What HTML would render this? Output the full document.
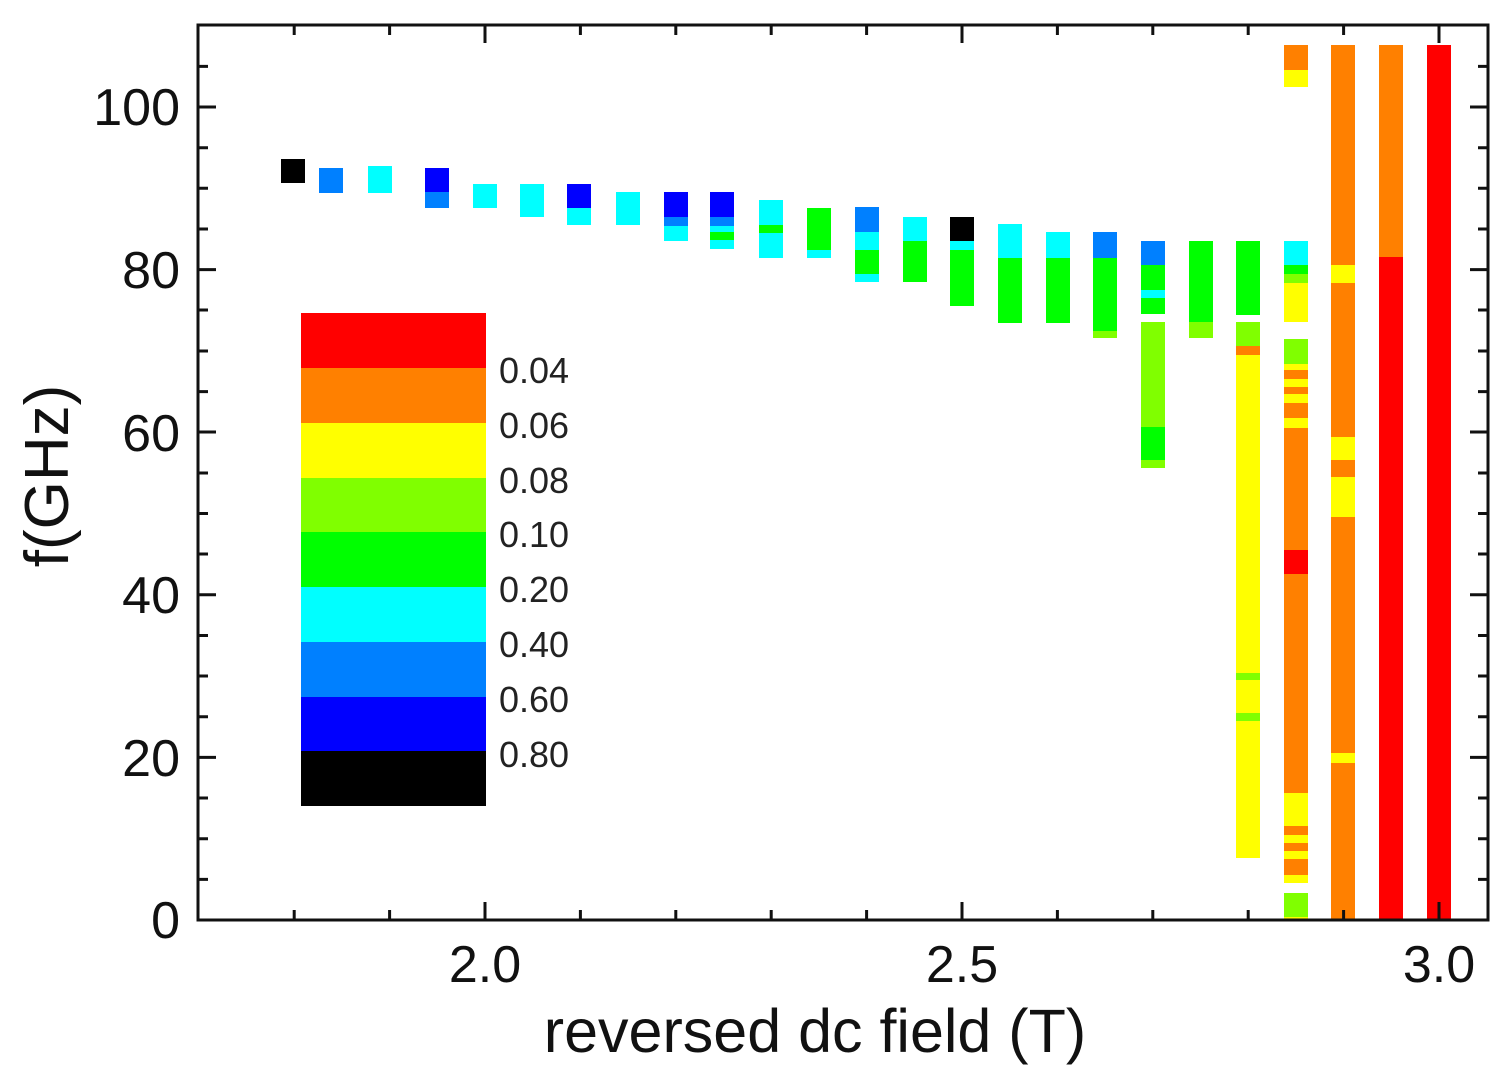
<!DOCTYPE html>
<html><head><meta charset="utf-8"><style>
html,body{margin:0;padding:0;background:#fff;}
svg{display:block;font-family:"Liberation Sans",Arial,sans-serif;}
</style></head><body>
<svg width="1508" height="1074" viewBox="0 0 1508 1074" xmlns="http://www.w3.org/2000/svg">
<rect width="1508" height="1074" fill="#fff"/>
<g shape-rendering="crispEdges">
<rect x="281" y="159" width="24" height="24" fill="#000"/>
<rect x="319" y="168" width="24" height="25" fill="#0080ff"/>
<rect x="368" y="166" width="24" height="27" fill="#00ffff"/>
<rect x="425" y="168" width="24" height="24" fill="#0000ff"/><rect x="425" y="192" width="24" height="16" fill="#0080ff"/>
<rect x="473" y="184" width="24" height="24" fill="#00ffff"/>
<rect x="520" y="184" width="24" height="33" fill="#00ffff"/>
<rect x="567" y="184" width="24" height="24" fill="#0000ff"/><rect x="567" y="208" width="24" height="17" fill="#00ffff"/>
<rect x="616" y="192" width="24" height="33" fill="#00ffff"/>
<rect x="664" y="192" width="24" height="25" fill="#0000ff"/><rect x="664" y="217" width="24" height="9" fill="#0080ff"/><rect x="664" y="226" width="24" height="15" fill="#00ffff"/>
<rect x="710" y="192" width="24" height="25" fill="#0000ff"/><rect x="710" y="217" width="24" height="9" fill="#0080ff"/><rect x="710" y="226" width="24" height="6" fill="#00ffff"/><rect x="710" y="232" width="24" height="8" fill="#00ff00"/><rect x="710" y="240" width="24" height="9" fill="#00ffff"/>
<rect x="759" y="200" width="24" height="25" fill="#00ffff"/><rect x="759" y="225" width="24" height="8" fill="#00ff00"/><rect x="759" y="233" width="24" height="25" fill="#00ffff"/>
<rect x="807" y="208" width="24" height="42" fill="#00ff00"/><rect x="807" y="250" width="24" height="8" fill="#00ffff"/>
<rect x="855" y="207" width="24" height="25" fill="#0080ff"/><rect x="855" y="232" width="24" height="18" fill="#00ffff"/><rect x="855" y="250" width="24" height="24" fill="#00ff00"/><rect x="855" y="274" width="24" height="8" fill="#00ffff"/>
<rect x="903" y="217" width="24" height="24" fill="#00ffff"/><rect x="903" y="241" width="24" height="41" fill="#00ff00"/>
<rect x="950" y="217" width="24" height="24" fill="#000"/><rect x="950" y="241" width="24" height="9" fill="#00ffff"/><rect x="950" y="250" width="24" height="56" fill="#00ff00"/>
<rect x="998" y="224" width="24" height="34" fill="#00ffff"/><rect x="998" y="258" width="24" height="65" fill="#00ff00"/>
<rect x="1046" y="232" width="24" height="26" fill="#00ffff"/><rect x="1046" y="258" width="24" height="65" fill="#00ff00"/>
<rect x="1093" y="232" width="24" height="26" fill="#0080ff"/><rect x="1093" y="258" width="24" height="73" fill="#00ff00"/><rect x="1093" y="331" width="24" height="7" fill="#80ff00"/>
<rect x="1141" y="241" width="24" height="24" fill="#0080ff"/><rect x="1141" y="265" width="24" height="25" fill="#00ff00"/><rect x="1141" y="290" width="24" height="8" fill="#00ffff"/><rect x="1141" y="298" width="24" height="16" fill="#00ff00"/><rect x="1141" y="322" width="24" height="105" fill="#80ff00"/><rect x="1141" y="427" width="24" height="33" fill="#00ff00"/><rect x="1141" y="460" width="24" height="8" fill="#80ff00"/>
<rect x="1189" y="241" width="24" height="81" fill="#00ff00"/><rect x="1189" y="322" width="24" height="16" fill="#80ff00"/>
<rect x="1236" y="241" width="24" height="74" fill="#00ff00"/><rect x="1236" y="322" width="24" height="24" fill="#80ff00"/><rect x="1236" y="346" width="24" height="9" fill="#ff8000"/><rect x="1236" y="355" width="24" height="503" fill="#ffff00"/><rect x="1236" y="673" width="24" height="7" fill="#80ff00"/><rect x="1236" y="713" width="24" height="8" fill="#80ff00"/>
<rect x="1284" y="45" width="24" height="25" fill="#ff8000"/><rect x="1284" y="70" width="24" height="17" fill="#ffff00"/>
<rect x="1284" y="241" width="24" height="24" fill="#00ffff"/><rect x="1284" y="265" width="24" height="9" fill="#00ff00"/><rect x="1284" y="274" width="24" height="9" fill="#80ff00"/><rect x="1284" y="283" width="24" height="39" fill="#ffff00"/>
<rect x="1284" y="339" width="24" height="25" fill="#80ff00"/><rect x="1284" y="364" width="24" height="6" fill="#ffff00"/><rect x="1284" y="370" width="24" height="9" fill="#ff8000"/><rect x="1284" y="379" width="24" height="8" fill="#ffff00"/><rect x="1284" y="387" width="24" height="7" fill="#ff8000"/><rect x="1284" y="394" width="24" height="9" fill="#ffff00"/><rect x="1284" y="403" width="24" height="15" fill="#ff8000"/><rect x="1284" y="418" width="24" height="10" fill="#ffff00"/><rect x="1284" y="428" width="24" height="122" fill="#ff8000"/><rect x="1284" y="550" width="24" height="24" fill="#ff0000"/><rect x="1284" y="574" width="24" height="219" fill="#ff8000"/><rect x="1284" y="793" width="24" height="33" fill="#ffff00"/><rect x="1284" y="826" width="24" height="9" fill="#ff8000"/><rect x="1284" y="835" width="24" height="8" fill="#ffff00"/><rect x="1284" y="843" width="24" height="8" fill="#ff8000"/><rect x="1284" y="851" width="24" height="8" fill="#ffff00"/><rect x="1284" y="859" width="24" height="16" fill="#ff8000"/><rect x="1284" y="875" width="24" height="8" fill="#ffff00"/><rect x="1284" y="893" width="24" height="24" fill="#80ff00"/><rect x="1284" y="917" width="24" height="3" fill="#ffff00"/>
<rect x="1331" y="45" width="24" height="220" fill="#ff8000"/><rect x="1331" y="265" width="24" height="18" fill="#ffff00"/><rect x="1331" y="283" width="24" height="154" fill="#ff8000"/><rect x="1331" y="437" width="24" height="23" fill="#ffff00"/><rect x="1331" y="460" width="24" height="17" fill="#ff8000"/><rect x="1331" y="477" width="24" height="40" fill="#ffff00"/><rect x="1331" y="517" width="24" height="236" fill="#ff8000"/><rect x="1331" y="753" width="24" height="10" fill="#ffff00"/><rect x="1331" y="763" width="24" height="157" fill="#ff8000"/>
<rect x="1379" y="45" width="24" height="212" fill="#ff8000"/><rect x="1379" y="257" width="24" height="663" fill="#ff0000"/>
<rect x="1427" y="45" width="24" height="875" fill="#ff0000"/>
<rect x="301" y="313" width="185" height="55" fill="#ff0000"/>
<rect x="301" y="368" width="185" height="55" fill="#ff8000"/>
<rect x="301" y="423" width="185" height="55" fill="#ffff00"/>
<rect x="301" y="478" width="185" height="54" fill="#80ff00"/>
<rect x="301" y="532" width="185" height="55" fill="#00ff00"/>
<rect x="301" y="587" width="185" height="55" fill="#00ffff"/>
<rect x="301" y="642" width="185" height="55" fill="#0080ff"/>
<rect x="301" y="697" width="185" height="54" fill="#0000ff"/>
<rect x="301" y="751" width="185" height="55" fill="#000"/>
</g>
<g font-size="36" fill="#222">
<text x="499" y="383">0.04</text><text x="499" y="438">0.06</text><text x="499" y="493">0.08</text><text x="499" y="547">0.10</text><text x="499" y="602">0.20</text><text x="499" y="657">0.40</text><text x="499" y="712">0.60</text><text x="499" y="767">0.80</text>
</g>
<rect x="198" y="25" width="1290" height="895" fill="none" stroke="#111" stroke-width="3"/>
<g stroke="#111" stroke-width="3">
<path d="M198 879.4h10M198 838.7h10M198 798h10M198 757.4h18M198 716.8h10M198 676h10M198 635.5h10M198 594.8h18M198 554h10M198 513.5h10M198 473h10M198 432h18M198 391.6h10M198 351h10M198 310h10M198 269.6h18M198 229h10M198 188.3h10M198 147.7h10M198 107h18M198 66.4h10"/>
<path d="M1488 879.4h-10M1488 838.7h-10M1488 798h-10M1488 757.4h-18M1488 716.8h-10M1488 676h-10M1488 635.5h-10M1488 594.8h-18M1488 554h-10M1488 513.5h-10M1488 473h-10M1488 432h-18M1488 391.6h-10M1488 351h-10M1488 310h-10M1488 269.6h-18M1488 229h-10M1488 188.3h-10M1488 147.7h-10M1488 107h-18M1488 66.4h-10"/>
<path d="M294.2 920v-10M389.6 920v-10M485 920v-18M580.4 920v-10M675.8 920v-10M771.2 920v-10M866.6 920v-10M962 920v-18M1057.4 920v-10M1152.8 920v-10M1248.2 920v-10M1343.6 920v-10M1439 920v-18"/>
<path d="M294.2 25v10M389.6 25v10M485 25v18M580.4 25v10M675.8 25v10M771.2 25v10M866.6 25v10M962 25v18M1057.4 25v10M1152.8 25v10M1248.2 25v10M1343.6 25v10M1439 25v18"/>
</g>
<g font-size="52" fill="#111" text-anchor="end">
<text x="180" y="125">100</text><text x="180" y="288">80</text><text x="180" y="451">60</text><text x="180" y="613">40</text><text x="180" y="776">20</text><text x="180" y="938">0</text>
</g>
<g font-size="52" fill="#111" text-anchor="middle">
<text x="485" y="982">2.0</text><text x="962" y="982">2.5</text><text x="1439" y="982">3.0</text>
<text x="815" y="1052" font-size="61">reversed dc field (T)</text>
<text transform="translate(68,476) rotate(-90)" font-size="62">f(GHz)</text>
</g>
</svg>
</body></html>
